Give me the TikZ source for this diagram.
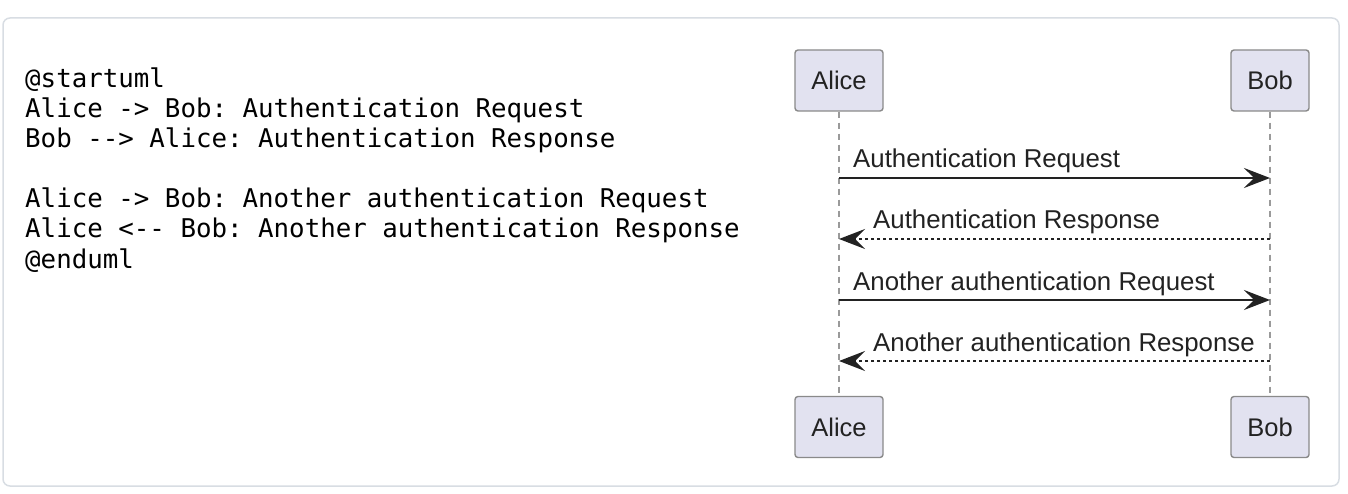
\documentclass[tikz,border=0pt]{standalone}
\usepackage{fontspec}
\setmainfont{Liberation Sans}
\setmonofont{DejaVu Sans Mono}
\usetikzlibrary{arrows.meta}

\definecolor{framegray}{HTML}{D8DDE3}
\definecolor{boxfill}{HTML}{E2E2F0}
\definecolor{boxline}{HTML}{8A8A8A}
\definecolor{lifegray}{HTML}{9A9A9A}
\definecolor{ink}{HTML}{222222}

\tikzset{
    actor/.style={draw=boxline, line width=1.4pt, fill=boxfill, rounded corners=3pt,
        minimum width=88pt, minimum height=61pt, inner sep=0pt,
        font=\fontsize{25.5}{30}\selectfont, text=ink},
    lifeline/.style={draw=lifegray, line width=1.3pt, dash pattern=on 6pt off 5pt},
    msg/.style={draw=ink, line width=1.6pt, -{Stealth[length=26pt, width=20pt, inset=10pt]}},
    reply/.style={msg, dash pattern=on 3.5pt off 2.5pt},
    msglabel/.style={anchor=base west, inner sep=0pt, text=ink,
        font=\fontsize{25.8}{30}\selectfont},
    codeline/.style={anchor=base west, inner sep=0pt, text=black,
        font=\ttfamily\fontsize{25.8}{30}\selectfont}
}

\begin{document}
\begin{tikzpicture}[x=1pt, y=-1pt]
    \useasboundingbox (0,0) rectangle (1348,494);

    % Frame
    \draw[framegray, line width=1.5pt, fill=white, rounded corners=7pt] (3,18) rectangle (1339,486);

    % Source text
    \foreach \y/\txt in {88/{@startuml}, 118/{Alice -> Bob: Authentication Request},
            148/{Bob -{}-> Alice: Authentication Response},
            208/{Alice -> Bob: Another authentication Request},
            238/{Alice <-{}- Bob: Another authentication Response}, 268/{@enduml}} {
        \node[codeline] at (25,\y) {\txt};
    }

    % Participants
    \node[actor] (aliceTop) at (839,80.5) {Alice};
    \node[actor, minimum width=78pt] (bobTop) at (1270,80.5) {Bob};
    \node[actor] (aliceBot) at (839,427) {Alice};
    \node[actor, minimum width=78pt] (bobBot) at (1270,427) {Bob};

    % Lifelines
    \draw[lifeline] (aliceTop) -- (aliceBot);
    \draw[lifeline] (bobTop) -- (bobBot);

    % Messages
    \draw[msg] (aliceTop |- 0,178) -- (bobTop |- 0,178);
    \node[msglabel] (m1) at (853,168) {Authentication Request};

    \draw[reply] (bobTop |- 0,239) -- (aliceTop |- 0,239);
    \node[msglabel] (m2) at (873,229) {Authentication Response};

    \draw[msg] (aliceTop |- 0,300) -- (bobTop |- 0,300);
    \node[msglabel] (m3) at (853,290) {Another authentication Request};

    \draw[reply] (bobTop |- 0,361) -- (aliceTop |- 0,361);
    \node[msglabel] (m4) at (873,351) {Another authentication Response};
\end{tikzpicture}
\end{document}
